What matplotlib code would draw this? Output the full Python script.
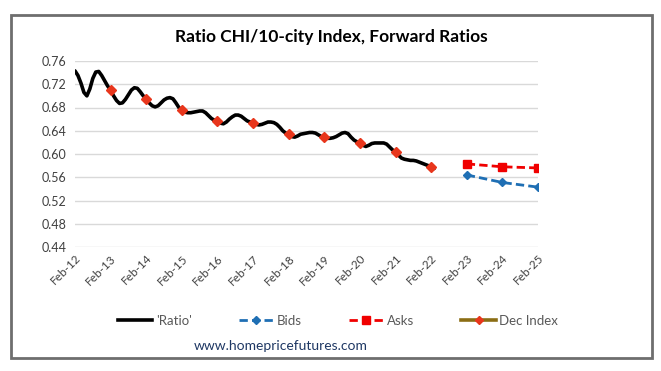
"""
Ratio of the Chicago home price index to the 10-city index, with forward ratios.
"""
import matplotlib
matplotlib.use("Agg")
import matplotlib.pyplot as plt
from matplotlib.lines import Line2D
from matplotlib.patches import Rectangle

plt.rcParams["font.family"] = ["Lato", "DejaVu Sans"]

# monthly ratio, Feb-12 .. Mar-22
ratio = [0.743, 0.735, 0.722, 0.706, 0.700, 0.712, 0.730, 0.741, 0.742, 0.735, 0.726, 0.717,
         0.710, 0.700, 0.692, 0.687, 0.688, 0.694, 0.702, 0.710, 0.714, 0.713, 0.707, 0.700,
         0.695, 0.688, 0.683, 0.681, 0.683, 0.688, 0.693, 0.696, 0.697, 0.695, 0.688, 0.680,
         0.675, 0.672, 0.671, 0.671, 0.672, 0.673, 0.674, 0.674, 0.671, 0.666, 0.661, 0.658,
         0.657, 0.653, 0.652, 0.655, 0.660, 0.664, 0.667, 0.667, 0.665, 0.661, 0.657, 0.655,
         0.654, 0.651, 0.650, 0.651, 0.653, 0.655, 0.655, 0.654, 0.651, 0.646, 0.640, 0.636,
         0.634, 0.630, 0.629, 0.631, 0.634, 0.635, 0.636, 0.637, 0.637, 0.636, 0.633, 0.630,
         0.629, 0.627, 0.627, 0.628, 0.630, 0.633, 0.636, 0.637, 0.635, 0.629, 0.624, 0.621,
         0.619, 0.615, 0.613, 0.615, 0.618, 0.619, 0.619, 0.619, 0.619, 0.617, 0.612, 0.607,
         0.604, 0.598, 0.593, 0.591, 0.590, 0.589, 0.589, 0.588, 0.586, 0.584, 0.582, 0.580,
         0.578, 0.575]

# annual Feb points, Feb-13 .. Feb-22
dec_years = [1, 2, 3, 4, 5, 6, 7, 8, 9, 10]
dec_index = [0.710, 0.695, 0.675, 0.657, 0.654, 0.634, 0.629, 0.619, 0.604, 0.578]

# forward ratios, Feb-23 .. Feb-25
fwd_years = [11, 12, 13]
bids = [0.564, 0.551, 0.543]
asks = [0.583, 0.578, 0.576]

tick_labels = ["Feb-12", "Feb-13", "Feb-14", "Feb-15", "Feb-16", "Feb-17", "Feb-18",
               "Feb-19", "Feb-20", "Feb-21", "Feb-22", "Feb-23", "Feb-24", "Feb-25"]
y_ticks = [0.44, 0.48, 0.52, 0.56, 0.60, 0.64, 0.68, 0.72, 0.76]

fig = plt.figure(figsize=(6.61, 3.71), dpi=100)
fig.patches.append(Rectangle((11 / 661, 1 - 358 / 371), 641 / 661, 343 / 371,
                             transform=fig.transFigure, fill=False,
                             edgecolor="#6e6e6e", linewidth=2))

ax = fig.add_axes([75 / 661, 1 - 247 / 371, 463 / 661, 186 / 371])

months = list(range(len(ratio)))
ax.plot(months, ratio, color="black", linewidth=2.6, solid_capstyle="round")
ax.plot([12 * y for y in dec_years], dec_index, linestyle="none", marker="D",
        markersize=5, color="#e8361c")
ax.plot([12 * y for y in fwd_years], bids, color="#1f6fb4", linestyle=(0, (3, 1.5)),
        linewidth=2, marker="D", markersize=4)
ax.plot([12 * y for y in fwd_years], asks, color="#f00000", linestyle=(0, (3, 1.5)),
        linewidth=2, marker="s", markersize=6)

ax.set_xlim(0, 156)
ax.set_ylim(0.44, 0.76)
ax.set_yticks(y_ticks)
ax.set_yticklabels(["%.2f" % v for v in y_ticks], fontsize=9, color="#404040")
ax.set_xticks([12 * i for i in range(len(tick_labels))])
ax.set_xticklabels(tick_labels, fontsize=8.5, color="#404040", rotation=45,
                   ha="right", va="top", rotation_mode="anchor")
ax.tick_params(length=0, pad=6)
ax.tick_params(axis="x", pad=4)
ax.grid(axis="y", color="#d9d9d9", linewidth=1)
ax.set_axisbelow(True)
for s in ax.spines.values():
    s.set_visible(False)

fig.text(331 / 661, 1 - 37 / 371, "Ratio CHI/10-city Index, Forward Ratios",
         ha="center", va="center", fontsize=12.5, fontweight="bold")

handles = [
    Line2D([], [], color="black", linewidth=2.6),
    Line2D([], [], color="#1f6fb4", linestyle=(0, (3, 1.5)), linewidth=2,
           marker="D", markersize=4),
    Line2D([], [], color="#f00000", linestyle=(0, (3, 1.5)), linewidth=2,
           marker="s", markersize=6),
    Line2D([], [], color="#8b6d14", linewidth=2.6, marker="D", markersize=4,
           markerfacecolor="#e8361c", markeredgecolor="#e8361c"),
]
fig.legend(handles, ["'Ratio'", "Bids", "Asks", "Dec Index"], loc="center",
           bbox_to_anchor=(338 / 661, 1 - 321 / 371), ncol=4, frameon=False,
           fontsize=9.5, handlelength=2.6, handletextpad=0.25, columnspacing=3.6,
           labelcolor="#595959")

fig.text(281 / 661, 1 - 346 / 371, "www.homepricefutures.com", ha="center",
         va="center", fontsize=10, color="#1f3864")

fig.savefig("out.png", dpi=100)
